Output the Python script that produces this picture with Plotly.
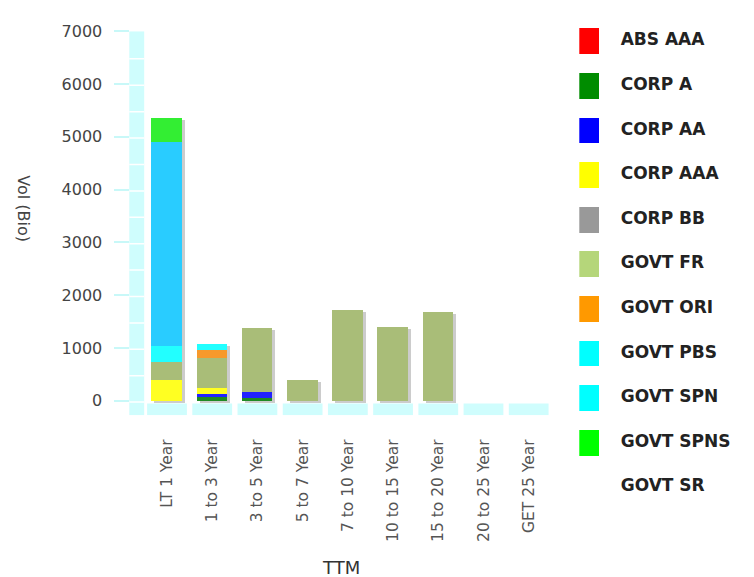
import numpy as np
import plotly.graph_objects as go

# ---------------- data ----------------
categories = ["LT 1 Year", "1 to 3 Year", "3 to 5 Year", "5 to 7 Year", "7 to 10 Year",
              "10 to 15 Year", "15 to 20 Year", "20 to 25 Year", "GET 25 Year"]

series_names = ["ABS AAA", "CORP A", "CORP AA", "CORP AAA", "CORP BB", "GOVT FR",
                "GOVT ORI", "GOVT PBS", "GOVT SPN", "GOVT SPNS", "GOVT SR"]

abs_aaa   = [0, 0, 0, 0, 0, 0, 0, 0, 0]
corp_a    = [0, 75, 55, 0, 0, 0, 0, 0, 0]
corp_aa   = [0, 60, 115, 0, 0, 0, 0, 0, 0]
corp_aaa  = [400, 105, 0, 0, 0, 0, 0, 0, 0]
corp_bb   = [0, 0, 0, 0, 0, 0, 0, 0, 0]
govt_fr   = [335, 560, 1205, 385, 1715, 1395, 1680, 0, 0]
govt_ori  = [0, 155, 0, 0, 0, 0, 0, 0, 0]
govt_pbs  = [305, 112, 0, 0, 0, 0, 0, 0, 0]
govt_spn  = [3865, 0, 0, 0, 0, 0, 0, 0, 0]
govt_spns = [450, 0, 0, 0, 0, 0, 0, 0, 0]
govt_sr   = [0, 0, 0, 0, 0, 0, 0, 0, 0]

series_values = [abs_aaa, corp_a, corp_aa, corp_aaa, corp_bb, govt_fr,
                 govt_ori, govt_pbs, govt_spn, govt_spns, govt_sr]

y_ticks = [0, 1000, 2000, 3000, 4000, 5000, 6000, 7000]

# ---------------- style ----------------
bar_colors = ["#FF0000", "#1F8A24", "#2222FF", "#FFFF22", "#999999", "#A9BD78",
              "#F7992B", "#22FFFF", "#29CCFF", "#33EE33", "#FFFFFF"]
legend_colors = ["#FF0000", "#008C00", "#0000FF", "#FFFF00", "#999999", "#B5D67A",
                 "#FF9900", "#00FFFF", "#00FFFF", "#00FF00", "rgba(0,0,0,0)"]
WALL = "#CFFDFD"
W, H = 754, 577
BAR_W = 0.677
Y_MIN, Y_MAX = -274, 7000

def px_x(p):
    return p / W

def px_y(p):
    return 1 - p / H

fig = go.Figure()

# soft drop shadow behind bar stacks
totals = np.sum(np.array(series_values), axis=0)
fig.add_trace(go.Bar(
    x=categories, y=totals, base=-37, width=BAR_W, offset=-BAR_W / 2 + 0.066,
    marker=dict(color="rgba(110,110,110,0.35)", line=dict(width=0)),
    hoverinfo="skip", showlegend=False, xaxis="x", yaxis="y"))

# stacked bars
cum = np.zeros(len(categories))
for name, vals, col in zip(series_names, series_values, bar_colors):
    v = np.array(vals, dtype=float)
    fig.add_trace(go.Bar(
        name=name, x=categories, y=v, base=cum.copy(), width=BAR_W,
        marker=dict(color=col, line=dict(width=0)), showlegend=False,
        xaxis="x", yaxis="y"))
    cum = cum + v

# custom legend (swatches + labels)
idx = list(range(len(series_names)))
fig.add_trace(go.Bar(
    orientation="h", y=idx, x=[20] * len(idx), base=0, width=0.58,
    marker=dict(color=legend_colors, line=dict(width=0)),
    hoverinfo="skip", showlegend=False, xaxis="x3", yaxis="y3"))
fig.add_trace(go.Scatter(
    y=idx, x=[41.4] * len(idx), mode="text", text=series_names,
    textposition="middle right",
    textfont=dict(family="DejaVu Sans", size=17, color="#222222", weight="bold"),
    hoverinfo="skip", showlegend=False, xaxis="x3", yaxis="y3"))

shapes = []
# left wall
shapes.append(dict(type="rect", xref="paper", yref="y", x0=px_x(129.3), x1=px_x(144.2),
                   y0=Y_MIN, y1=Y_MAX, fillcolor=WALL, line=dict(width=0), layer="below"))
for v in range(0, 7000, 500):
    shapes.append(dict(type="line", xref="paper", yref="y", x0=px_x(129.3), x1=px_x(144.2),
                       y0=v - 25, y1=v - 25, line=dict(color="white", width=1.5), layer="below"))
# floor tiles
for i in range(len(categories)):
    shapes.append(dict(type="rect", xref="x", yref="y", x0=i - 0.44, x1=i + 0.44,
                       y0=Y_MIN, y1=-50, fillcolor=WALL, line=dict(width=0), layer="below"))

fig.update_layout(
    width=W, height=H,
    margin=dict(l=0, r=0, t=0, b=0),
    paper_bgcolor="white", plot_bgcolor="white",
    barmode="overlay", bargap=0,
    showlegend=False,
    font=dict(family="DejaVu Sans"),
    shapes=shapes,
    xaxis=dict(domain=[px_x(144.4), px_x(551.3)], range=[-0.5, 8.5], type="category",
               categoryorder="array", categoryarray=categories,
               tickangle=-90, showgrid=False, zeroline=False, showline=False,
               ticks="", ticklabelstandoff=20,
               tickfont=dict(family="DejaVu Sans", size=15.5, color="#555555"),
               anchor="y"),
    yaxis=dict(domain=[px_y(412.7), px_y(22.5)], range=[Y_MIN, Y_MAX],
               tickvals=y_ticks, ticktext=[str(t) for t in y_ticks],
               anchor="free", position=px_x(128.5), side="left",
               ticks="outside", ticklen=15, tickcolor="#C8F8F8", tickwidth=1.5,
               ticklabelstandoff=8,
               showgrid=False, zeroline=False, showline=False,
               tickfont=dict(family="DejaVu Sans", size=16, color="#444444")),
    xaxis3=dict(domain=[px_x(579.3), 1.0], range=[0, W - 579.3], visible=False,
                anchor="y3", fixedrange=True),
    yaxis3=dict(domain=[px_y(508.4), px_y(10.0)], range=[10.5, -0.5], visible=False,
                anchor="x3", fixedrange=True),
    annotations=[
        dict(text="Vol (Bio)", textangle=90, xref="paper", yref="paper",
             x=px_x(23.5), y=px_y(203), showarrow=False,
             font=dict(family="DejaVu Sans", size=16, color="#444444"),
             xanchor="center", yanchor="middle"),
        dict(text="TTM", xref="paper", yref="paper", x=px_x(340.8), y=px_y(567),
             showarrow=False, font=dict(family="DejaVu Sans", size=18, color="#333333"),
             xanchor="center", yanchor="middle"),
    ],
)

fig.write_html("out.html")
